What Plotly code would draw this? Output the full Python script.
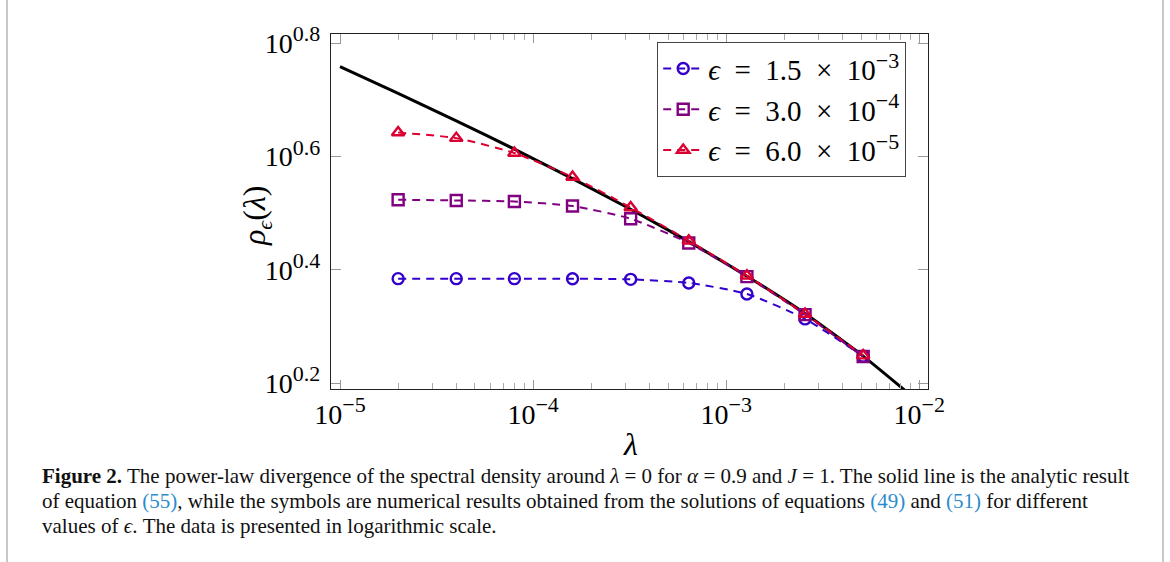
import plotly.graph_objects as go

# ---------------- data ----------------
lam = [2e-5, 4e-5, 8e-5, 1.6e-4, 3.2e-4, 6.4e-4, 1.28e-3, 2.56e-3, 5.12e-3]
rho_eps1 = [2.425, 2.425, 2.425, 2.424, 2.418, 2.383, 2.279, 2.059, 1.769]   # eps = 1.5e-3
rho_eps2 = [3.341, 3.332, 3.318, 3.257, 3.093, 2.803, 2.445, 2.095, 1.767]   # eps = 3.0e-4
rho_eps3 = [4.391, 4.292, 4.040, 3.664, 3.238, 2.829, 2.454, 2.101, 1.774]   # eps = 6.0e-5

lam_line = [1e-5, 2e-5, 4e-5, 8e-5, 1.6e-4, 3.2e-4, 6.4e-4, 1.28e-3, 2.56e-3, 5.12e-3, 1e-2]
rho_line = [5.741, 5.149, 4.605, 4.104, 3.642, 3.215, 2.818, 2.449, 2.105, 1.770, 1.467]

SUP = "<sup><span style='font-size:22px'>{}</span></sup>"
NB = "&nbsp;"
series_names = [
    f"<i>ϵ</i>{NB*2}={NB*2}1.5{NB*2}×{NB*2}10" + SUP.format("−3"),
    f"<i>ϵ</i>{NB*2}={NB*2}3.0{NB*2}×{NB*2}10" + SUP.format("−4"),
    f"<i>ϵ</i>{NB*2}={NB*2}6.0{NB*2}×{NB*2}10" + SUP.format("−5"),
]
series_colors = ["rgb(51,0,204)", "rgb(128,0,128)", "rgb(220,0,50)"]
series_symbols = ["circle-open", "square-open", "triangle-up-open"]

x_tickvals = [1e-5, 1e-4, 1e-3, 1e-2]
x_ticktext = ["10" + SUP.format("−5"), "10" + SUP.format("−4"), "10" + SUP.format("−3"), "10" + SUP.format("−2")]
y_tickvals = [10 ** 0.2, 10 ** 0.4, 10 ** 0.6, 10 ** 0.8]
y_ticktext = ["10" + SUP.format("0.2"), "10" + SUP.format("0.4"), "10" + SUP.format("0.6"), "10" + SUP.format("0.8")]
x_minor = [m * 10 ** e for e in (-5, -4, -3) for m in range(2, 10)]

FONT = "Liberation Serif"

fig = go.Figure()

fig.add_trace(go.Scatter(x=lam_line, y=rho_line, mode="lines",
                         line=dict(color="black", width=3, shape="spline", smoothing=0.5),
                         showlegend=False, hoverinfo="skip"))

for name, ys, col, sym in zip(series_names, [rho_eps1, rho_eps2, rho_eps3], series_colors, series_symbols):
    fig.add_trace(go.Scatter(
        x=lam, y=ys, mode="lines+markers", name=name,
        line=dict(color=col, width=2, dash="8px,6px", shape="spline", smoothing=0.6),
        marker=dict(symbol=sym, size=11, color=col, line=dict(color=col, width=2.4)),
    ))

L, R, T, B = 331, 242, 34, 173
W, H = 1170, 562
PW, PH = W - L - R, H - T - B


def px_x(px):
    return (px - L) / PW


def px_y(py):
    return (H - B - py) / PH


fig.update_layout(
    width=W, height=H,
    margin=dict(l=L, r=R, t=T, b=B),
    plot_bgcolor="white", paper_bgcolor="white",
    font=dict(family=FONT, color="black"),
    showlegend=True,
    legend=dict(x=px_x(657), y=px_y(42), xanchor="left", yanchor="top",
                bordercolor="#444", borderwidth=1.2, bgcolor="white",
                font=dict(size=29, family=FONT), tracegroupgap=0,
                itemwidth=40),
)

fig.update_xaxes(
    type="log", range=[-5.0466, -1.955],
    tickmode="array", tickvals=x_tickvals, ticktext=x_ticktext,
    ticks="inside", ticklen=9, tickwidth=1, tickcolor="#999",
    showline=True, linecolor="#222", linewidth=1.3, mirror="allticks",
    showgrid=False, zeroline=False,
    tickfont=dict(size=28, family=FONT),
    minor=dict(tickmode="array", tickvals=x_minor, ticks="inside", ticklen=6,
               tickcolor="#aaa", tickwidth=1, showgrid=False),
)
fig.update_yaxes(
    type="log", range=[0.19, 0.8164],
    tickmode="array", tickvals=y_tickvals, ticktext=y_ticktext,
    ticks="inside", ticklen=10, tickwidth=1, tickcolor="#999",
    showline=True, linecolor="#222", linewidth=1.3, mirror="allticks",
    showgrid=False, zeroline=False, ticklabelstandoff=4,
    tickfont=dict(size=28, family=FONT),
)

ann = []
ann.append(dict(x=px_x(630), y=px_y(444), xref="paper", yref="paper", text="<i>λ</i>",
                xanchor="center", yanchor="middle",
                showarrow=False, font=dict(size=32, family=FONT)))
ann.append(dict(x=px_x(256), y=px_y(216), xref="paper", yref="paper",
                text="<i>ρ</i><sub><span style='font-size:22px'><i>ϵ</i></span></sub>(<i>λ</i>)", textangle=-90,
                xanchor="center", yanchor="middle",
                showarrow=False, font=dict(size=32, family=FONT)))

link = "#2a8ccf"
cap_lines = [
    "<b>Figure 2.</b> The power-law divergence of the spectral density around <i>λ</i> = 0 for <i>α</i> = 0.9 and <i>J</i> = 1. The solid line is the analytic result",
    f"of equation <span style='color:{link}'>(55)</span>, while the symbols are numerical results obtained from the solutions of equations <span style='color:{link}'>(49)</span> and <span style='color:{link}'>(51)</span> for different",
    "values of <i>ϵ</i>. The data is presented in logarithmic scale.",
]
for i, t in enumerate(cap_lines):
    ann.append(dict(x=px_x(40), y=px_y(476 + 25 * i), xref="paper", yref="paper", text=t,
                    xanchor="left", yanchor="middle", align="left", showarrow=False,
                    font=dict(size=21, family=FONT, color="#111")))
fig.update_layout(annotations=ann)

# page side borders
for xp in (7, 1163):
    fig.add_shape(type="line", xref="paper", yref="paper", x0=px_x(xp), x1=px_x(xp),
                  y0=px_y(0), y1=px_y(562), line=dict(color="#c8c8c8", width=2))

fig.write_html("out.html")
